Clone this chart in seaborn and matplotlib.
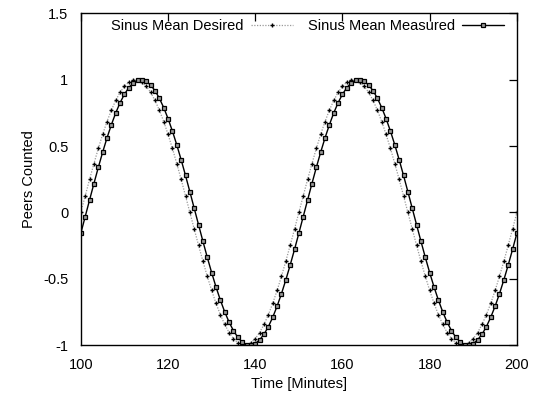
import matplotlib
matplotlib.use("Agg")
import matplotlib.pyplot as plt
import seaborn as sns
import pandas as pd

minutes = list(range(100, 201))

desired = [
    0.000, 0.125, 0.249, 0.368, 0.482, 0.588, 0.685, 0.771, 0.844, 0.905,
    0.951, 0.982, 0.998, 0.998, 0.982, 0.951, 0.905, 0.844, 0.771, 0.685,
    0.588, 0.482, 0.368, 0.249, 0.125, 0.000, -0.125, -0.249, -0.368, -0.482,
    -0.588, -0.685, -0.771, -0.844, -0.905, -0.951, -0.982, -0.998, -0.998, -0.982,
    -0.951, -0.905, -0.844, -0.771, -0.685, -0.588, -0.482, -0.368, -0.249, -0.125,
    0.000, 0.125, 0.249, 0.368, 0.482, 0.588, 0.685, 0.771, 0.844, 0.905,
    0.951, 0.982, 0.998, 0.998, 0.982, 0.951, 0.905, 0.844, 0.771, 0.685,
    0.588, 0.482, 0.368, 0.249, 0.125, 0.000, -0.125, -0.249, -0.368, -0.482,
    -0.588, -0.685, -0.771, -0.844, -0.905, -0.951, -0.982, -0.998, -0.998, -0.982,
    -0.951, -0.905, -0.844, -0.771, -0.685, -0.588, -0.482, -0.368, -0.249, -0.125,
    0.000,
]

measured = [
    -0.156, -0.031, 0.094, 0.218, 0.339, 0.454, 0.562, 0.661, 0.750, 0.827,
    0.891, 0.941, 0.976, 0.996, 1.000, 0.988, 0.960, 0.918, 0.861, 0.790,
    0.707, 0.613, 0.509, 0.397, 0.279, 0.156, 0.031, -0.094, -0.218, -0.339,
    -0.454, -0.562, -0.661, -0.750, -0.827, -0.891, -0.941, -0.976, -0.996, -1.000,
    -0.988, -0.960, -0.918, -0.861, -0.790, -0.707, -0.613, -0.509, -0.397, -0.279,
    -0.156, -0.031, 0.094, 0.218, 0.339, 0.454, 0.562, 0.661, 0.750, 0.827,
    0.891, 0.941, 0.976, 0.996, 1.000, 0.988, 0.960, 0.918, 0.861, 0.790,
    0.707, 0.613, 0.509, 0.397, 0.279, 0.156, 0.031, -0.094, -0.218, -0.339,
    -0.454, -0.562, -0.661, -0.750, -0.827, -0.891, -0.941, -0.976, -0.996, -1.000,
    -0.988, -0.960, -0.918, -0.861, -0.790, -0.707, -0.613, -0.509, -0.397, -0.279,
    -0.156,
]

series_names = ["Sinus Mean Desired", "Sinus Mean Measured"]
x_ticks = [100, 120, 140, 160, 180, 200]
y_ticks = [-1, -0.5, 0, 0.5, 1, 1.5]
y_tick_labels = ["-1", "-0.5", "0", "0.5", "1", "1.5"]

sns.set_style("white")
plt.rcParams["font.family"] = ["Liberation Sans", "DejaVu Sans"]
plt.rcParams["text.color"] = "black"
plt.rcParams["axes.labelcolor"] = "black"

fig = plt.figure(figsize=(5.39, 3.94), dpi=100)
ax = fig.add_axes([0.150, 0.124, 0.809, 0.842])

df_d = pd.DataFrame({"t": minutes, "v": desired})
df_m = pd.DataFrame({"t": minutes, "v": measured})

sns.lineplot(data=df_d, x="t", y="v", ax=ax, color="#9a9a9a", linestyle=(0, (1, 1.2)),
             linewidth=0.9, marker="+", markersize=3.0, markeredgewidth=1.0,
             markeredgecolor="black", markerfacecolor="black", label=series_names[0])
sns.lineplot(data=df_m, x="t", y="v", ax=ax, color="black", linewidth=1.0,
             marker="s", markersize=3.0, markeredgewidth=0.9,
             markeredgecolor="black", markerfacecolor="#999999", label=series_names[1])

ax.set_xlim(100, 200)
ax.set_ylim(-1, 1.5)
ax.set_xticks(x_ticks)
ax.set_xticklabels([str(v) for v in x_ticks])
ax.set_yticks(y_ticks)
ax.set_yticklabels(y_tick_labels)
ax.tick_params(direction="in", length=6, width=0.9, top=True, right=True,
               labelsize=10.5, pad=9, colors="black")
for s in ax.spines.values():
    s.set_color("black")
    s.set_linewidth(1.0)

ax.set_xlabel("Time [Minutes]", fontsize=10.5, labelpad=4, color="black")
ax.set_ylabel("Peers Counted", fontsize=10.5, labelpad=5, color="black")

leg = ax.legend(loc="upper center", bbox_to_anchor=(0.52, 1.01), ncol=2,
                markerfirst=False, frameon=False, fontsize=10.5,
                handlelength=2.9, handletextpad=0.5, columnspacing=1.0,
                borderaxespad=0.2)
for t in leg.get_texts():
    t.set_color("black")

fig.savefig("out.png", dpi=100)
